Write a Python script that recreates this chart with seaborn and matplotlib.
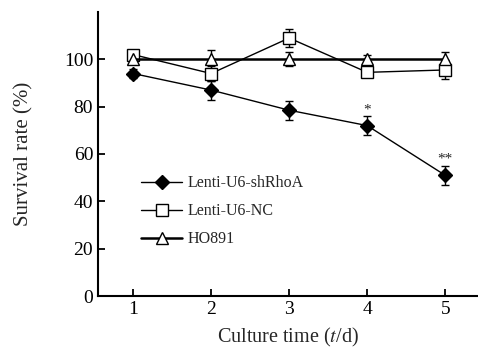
import numpy as np
import pandas as pd
import matplotlib
matplotlib.use("Agg")
import matplotlib.pyplot as plt
import seaborn as sns

# valores
dias = [1, 2, 3, 4, 5]
shrhoa = [94, 87, 78.5, 72, 51]
shrhoa_err = [2, 4, 4, 4, 4]
nc = [102, 94, 109, 94.5, 95.5]
nc_err = [2, 3, 4, 2, 4]
ho891 = [100, 100, 100, 100, 100]
ho891_err = [2, 4, 3, 2, 3]
grupos = ["Lenti-U6-shRhoA", "Lenti-U6-NC", "HO891"]

df = pd.DataFrame({
    "dia": dias * 3,
    "taxa": shrhoa + nc + ho891,
    "erro": shrhoa_err + nc_err + ho891_err,
    "grupo": np.repeat(grupos, len(dias)),
})

sns.set_style("ticks")
plt.rcParams["font.family"] = ["Liberation Serif", "DejaVu Serif"]
plt.rcParams["mathtext.fontset"] = "stix"

fig = plt.figure(figsize=(4.78, 3.52), dpi=100)
ax = fig.add_axes([0.205, 0.159, 0.795, 0.807])

estilos = {
    "Lenti-U6-shRhoA": dict(marker="D", mfc="black", ms=7, lw=1.0),
    "Lenti-U6-NC": dict(marker="s", mfc="white", ms=9, lw=1.0),
    "HO891": dict(marker="^", mfc="white", ms=9, lw=1.8),
}

for g in grupos:
    sub = df[df["grupo"] == g]
    st = estilos[g]
    ax.errorbar(sub["dia"], sub["taxa"], yerr=sub["erro"], fmt="none",
                ecolor="black", elinewidth=1, capsize=3, capthick=1, zorder=2)
    sns.lineplot(data=sub, x="dia", y="taxa", ax=ax, color="black",
                 lw=st["lw"], marker=st["marker"], markersize=st["ms"],
                 markerfacecolor=st["mfc"], markeredgecolor="black",
                 markeredgewidth=1, label=g, zorder=3)

ax.text(4, 76, "*", ha="center", va="bottom", fontsize=11)
ax.text(5, 55, "**", ha="center", va="bottom", fontsize=11)

ax.set_xlim(0.55, 5.42)
ax.set_ylim(0, 120)
ax.set_xticks(dias)
ax.set_yticks([0, 20, 40, 60, 80, 100])
ax.tick_params(direction="in", length=5, width=1.3, labelsize=14, colors="black")
for s in ["left", "bottom"]:
    ax.spines[s].set_linewidth(1.5)
    ax.spines[s].set_color("black")
sns.despine(ax=ax)

ax.set_xlabel("Culture time ($\\mathit{t}$/d)", fontsize=14.5, labelpad=6)
ax.set_ylabel("Survival rate (%)", fontsize=15, labelpad=22)

ax.legend(loc="upper left", bbox_to_anchor=(0.075, 0.475), frameon=False,
          fontsize=11.5, handlelength=2.6, labelspacing=0.75, handletextpad=0.3)

fig.savefig("out.png", dpi=100)
